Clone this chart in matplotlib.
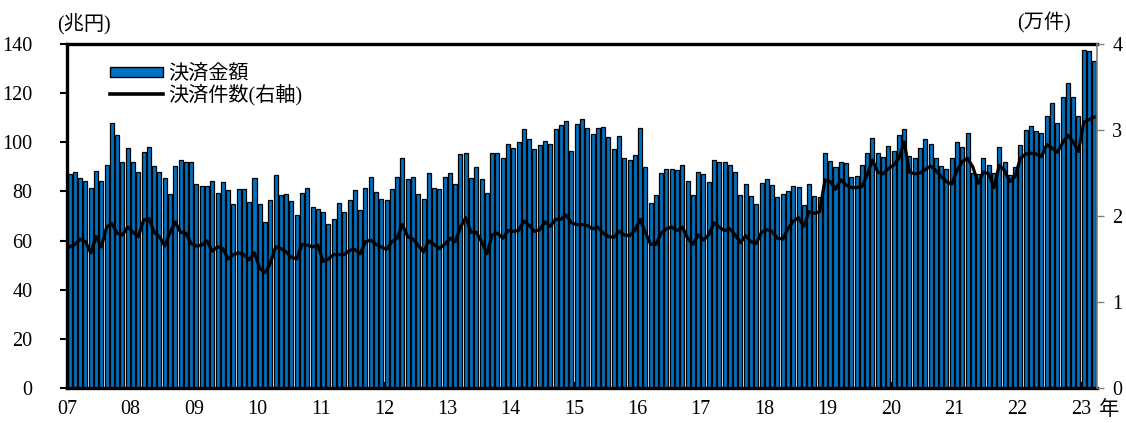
"""
plot.py

Monthly settlement value (bars, left axis, 兆円) and settlement count
(line, right axis, 万件), 2007/01 - 2023/03.
"""

import matplotlib
matplotlib.use("Agg")
import matplotlib.pyplot as plt
from matplotlib.patches import Patch
from matplotlib.lines import Line2D

# =====================================================================
# DATA
# =====================================================================
START_YEAR = 2007

# 決済金額 (兆円), monthly
AMOUNT = [
    87.1, 87.9, 85.6, 84.4, 81.2, 88.3, 84.2, 90.7, 108.0, 103.1, 92.0, 97.6,    # 2007
    91.8, 87.8, 96.2, 98.0, 90.5, 87.8, 85.6, 79.0, 90.2, 92.7, 91.8, 91.8,      # 2008
    83.1, 82.2, 82.3, 84.4, 79.5, 83.8, 80.7, 74.7, 80.8, 80.8, 75.8, 85.6,      # 2009
    74.8, 67.6, 76.4, 86.7, 78.5, 78.9, 76.2, 70.3, 79.5, 81.2, 73.5, 72.8,      # 2010
    71.7, 66.7, 68.7, 75.4, 71.7, 76.4, 80.5, 72.4, 81.5, 86.0, 79.9, 77.0,      # 2011
    76.4, 80.8, 86.0, 93.5, 85.0, 85.7, 78.8, 77.1, 87.6, 81.5, 80.8, 85.9,      # 2012
    87.6, 83.0, 95.2, 95.5, 85.6, 89.8, 85.0, 79.2, 95.8, 95.8, 93.5, 99.2,      # 2013
    97.6, 99.9, 105.3, 101.4, 97.1, 98.9, 100.5, 99.2, 105.3, 106.9, 108.7, 96.6,  # 2014
    107.5, 109.4, 105.6, 103.4, 105.6, 106.1, 102.0, 97.4, 102.6, 93.5, 92.8, 94.8,  # 2015
    105.7, 89.8, 75.4, 78.5, 87.6, 89.1, 89.1, 88.7, 90.7, 84.2, 78.5, 87.8,     # 2016
    87.1, 83.9, 92.8, 92.1, 92.0, 90.6, 87.9, 78.5, 83.0, 78.1, 74.8, 83.3,      # 2017
    84.9, 82.6, 77.6, 78.9, 80.3, 82.2, 81.6, 74.4, 82.9, 78.2, 77.8, 95.8,      # 2018
    92.4, 89.8, 92.0, 91.4, 85.7, 86.3, 90.7, 95.5, 101.9, 95.5, 93.9, 98.6,     # 2019
    96.5, 103.0, 105.3, 94.4, 93.5, 97.6, 101.3, 99.3, 93.5, 90.3, 89.0, 93.5,   # 2020
    100.0, 98.2, 103.7, 87.3, 87.1, 93.7, 90.7, 87.3, 98.0, 92.1, 86.7, 89.8,    # 2021
    98.9, 105.0, 106.7, 104.6, 103.9, 110.7, 115.9, 108.0, 118.6, 124.1, 118.6, 110.7,  # 2022
    137.4, 137.0, 132.9,                                                          # 2023
]

# 決済件数 (万件), monthly, right axis
COUNT = [
    1.64, 1.67, 1.73, 1.70, 1.57, 1.76, 1.64, 1.87, 1.91, 1.80, 1.78, 1.87,
    1.81, 1.76, 1.95, 1.97, 1.81, 1.76, 1.65, 1.81, 1.93, 1.81, 1.80, 1.68,
    1.65, 1.66, 1.71, 1.59, 1.64, 1.62, 1.50, 1.55, 1.57, 1.55, 1.49, 1.57,
    1.39, 1.34, 1.45, 1.64, 1.62, 1.58, 1.52, 1.50, 1.67, 1.66, 1.64, 1.66,
    1.47, 1.50, 1.55, 1.55, 1.55, 1.60, 1.61, 1.56, 1.70, 1.72, 1.67, 1.64,
    1.61, 1.70, 1.74, 1.90, 1.76, 1.73, 1.66, 1.58, 1.71, 1.67, 1.62, 1.67,
    1.74, 1.70, 1.87, 1.98, 1.81, 1.81, 1.70, 1.56, 1.78, 1.80, 1.74, 1.83,
    1.82, 1.83, 1.94, 1.89, 1.82, 1.84, 1.93, 1.88, 1.96, 1.96, 2.01, 1.92,
    1.90, 1.90, 1.89, 1.85, 1.87, 1.80, 1.76, 1.75, 1.82, 1.78, 1.77, 1.83,
    1.96, 1.81, 1.67, 1.67, 1.80, 1.85, 1.87, 1.83, 1.87, 1.74, 1.67, 1.78,
    1.72, 1.78, 1.92, 1.87, 1.83, 1.85, 1.78, 1.69, 1.77, 1.70, 1.68, 1.81,
    1.84, 1.82, 1.74, 1.73, 1.85, 1.94, 1.98, 1.88, 2.05, 2.03, 2.05, 2.42,
    2.40, 2.31, 2.42, 2.36, 2.33, 2.33, 2.34, 2.48, 2.65, 2.51, 2.49, 2.55,
    2.59, 2.67, 2.86, 2.51, 2.49, 2.50, 2.54, 2.58, 2.53, 2.46, 2.40, 2.37,
    2.53, 2.63, 2.67, 2.57, 2.38, 2.51, 2.49, 2.33, 2.59, 2.53, 2.40, 2.46,
    2.67, 2.72, 2.73, 2.72, 2.69, 2.83, 2.79, 2.74, 2.85, 2.94, 2.86, 2.75,
    3.09, 3.12, 3.15,
]

YEAR_LABELS = ["07", "08", "09", "10", "11", "12", "13", "14", "15",
               "16", "17", "18", "19", "20", "21", "22", "23"]
LEFT_TICKS = [0, 20, 40, 60, 80, 100, 120, 140]
RIGHT_TICKS = [0, 1, 2, 3, 4]

BAR_LABEL = "決済金額"
LINE_LABEL = "決済件数(右軸)"
LEFT_UNIT = "(兆円)"
RIGHT_UNIT = "(万件)"
YEAR_SUFFIX = "年"

BAR_COLOR = "#0070C0"
FONT = ["Liberation Serif", "Noto Sans CJK JP", "DejaVu Sans"]
NUM_SIZE = 14.5
JP_SIZE = 14.5
# =====================================================================

plt.rcParams["font.family"] = FONT
plt.rcParams["font.size"] = NUM_SIZE


def main():
    n = len(AMOUNT)
    x = list(range(n))

    fig = plt.figure(figsize=(11.26, 4.23), dpi=100)
    ax = fig.add_axes([0.0595, 0.083, 0.9147, 0.813])
    ax2 = ax.twinx()

    ax.bar(x, AMOUNT, width=0.76, color=BAR_COLOR, edgecolor="black",
           linewidth=0.9, zorder=2)
    ax.set_xlim(-0.5, n - 0.5)
    ax.set_ylim(0, 140)
    ax.set_yticks(LEFT_TICKS)

    year_pos = [12 * i - 0.5 for i in range(len(YEAR_LABELS))]
    ax.set_xticks(year_pos)
    ax.set_xticklabels(YEAR_LABELS)

    for side in ("left", "top", "bottom"):
        ax.spines[side].set_linewidth(2.4)
        ax.spines[side].set_color("black")
    ax.spines["right"].set_visible(False)

    ax2.plot(x, COUNT, color="black", linewidth=2.3, zorder=3)
    ax2.set_ylim(0, 4)
    ax2.set_yticks(RIGHT_TICKS)
    ax2.spines["right"].set_color("#808080")
    ax2.spines["right"].set_linewidth(1.2)
    for side in ("left", "top", "bottom"):
        ax2.spines[side].set_visible(False)

    # tick styling after the twin is made so nothing resets it
    ax.tick_params(axis="y", which="both", direction="out", length=5,
                   width=1.5, pad=20, labelsize=NUM_SIZE,
                   left=True, labelleft=True, right=False, labelright=False)
    ax.tick_params(axis="x", direction="in", length=4, width=1.5,
                   pad=9, labelsize=NUM_SIZE)
    ax2.tick_params(axis="y", direction="out", length=5, width=1.0,
                    color="#808080", pad=6, labelsize=NUM_SIZE)

    # unit labels and year suffix
    fig.text(0.051, 0.945, LEFT_UNIT, fontsize=JP_SIZE, ha="left", va="center")
    fig.text(0.903, 0.945, RIGHT_UNIT, fontsize=JP_SIZE, ha="left", va="center")
    ax.text(n - 0.5 + 0.3, -0.066, YEAR_SUFFIX,
            transform=ax.get_xaxis_transform(),
            fontsize=JP_SIZE, ha="left", va="center")

    handles = [
        Patch(facecolor=BAR_COLOR, edgecolor="black", linewidth=1.0),
        Line2D([0], [0], color="black", linewidth=2.6),
    ]
    ax2.legend(handles, [BAR_LABEL, LINE_LABEL], loc="upper left",
               bbox_to_anchor=(0.042, 0.94), frameon=False, fontsize=JP_SIZE,
               handlelength=2.6, handleheight=0.42, handletextpad=0.3,
               labelspacing=0.0, borderaxespad=0.0, borderpad=0.0)

    fig.savefig("out.png", dpi=100)


if __name__ == "__main__":
    main()
